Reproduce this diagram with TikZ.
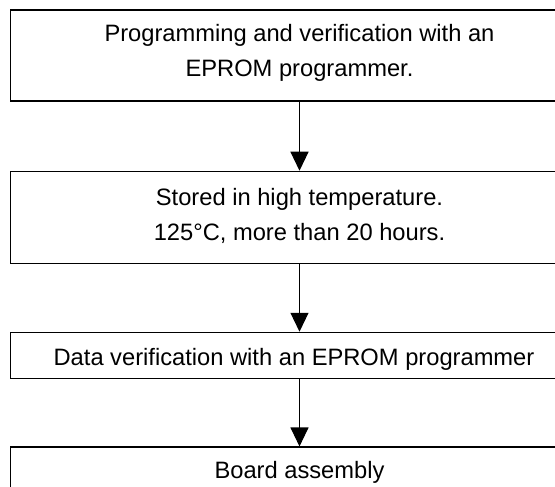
\documentclass[tikz,border=0pt]{standalone}
\usepackage{fontspec}
\setmainfont{Liberation Sans}
\usetikzlibrary{arrows.meta}
\newcommand\myup[1]{\rule{0pt}{#1}}
\newcommand\mydown[1]{\rule[-#1]{0pt}{#1}}
\begin{document}
\begin{tikzpicture}[x=1pt,y=-1pt,
  flowbox/.style={draw=black,line width=1.1pt,rectangle,minimum width=578pt,inner sep=2pt,
    align=center,font=\fontsize{23.7}{35}\selectfont},
  flowarrow/.style={draw=black,line width=1.1pt,-{Triangle[width=18pt,length=19pt]}}]
\useasboundingbox (0,0) rectangle (555,487);
\clip (0,0) rectangle (555,487);
\node[flowbox,minimum height=91pt] (b1) at (299.5,55.5)
  {\myup{18pt}Programming and verification with an\\EPROM programmer.\mydown{10.6pt}};
\node[flowbox,minimum height=92.4pt] (b2) at (299.5,217.5)
  {\myup{18pt}Stored in high temperature.\\125°C, more than 20 hours.\mydown{8pt}};
\node[flowbox,minimum height=46.4pt,text height=24pt,text depth=5pt] (b3) at (299.5,355.5)
  {\hspace*{-11pt}Data verification with an EPROM programmer};
\node[flowbox,minimum height=46.4pt,text height=20.6pt,text depth=5pt] (b4) at (299.5,470.2)
  {Board assembly};
\draw[flowarrow] (b1.south) -- (b2.north);
\draw[flowarrow] (b2.south) -- (b3.north);
\draw[flowarrow] (b3.south) -- (b4.north);
\end{tikzpicture}
\end{document}
